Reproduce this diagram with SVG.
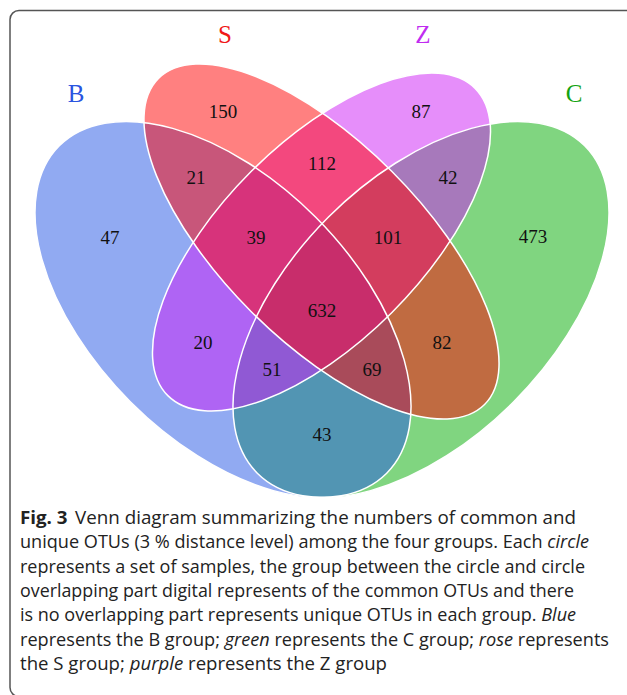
<svg xmlns="http://www.w3.org/2000/svg" xmlns:xlink="http://www.w3.org/1999/xlink" width="627" height="695" viewBox="0 0 627 695">
<style>
.set{fill-opacity:0.5;stroke:none}
.edge{fill:none;stroke:#ffffff;stroke-width:1.5}
.num{font-family:"Liberation Serif","Times New Roman",serif;font-size:19px;fill:#111111;text-anchor:middle}
.lab{font-family:"Liberation Serif","Times New Roman",serif;font-size:25px;text-anchor:middle}
.cap{font-family:"Open Sans","Noto Sans","Liberation Sans",sans-serif;font-size:17.5px;fill:#222222}
.it{font-style:italic}
</style>
<defs>
<ellipse id="eC" cx="421" cy="309.5" rx="231.5" ry="130.8" transform="rotate(-45 421 309.5)"/>
<ellipse id="eB" cx="223" cy="309.5" rx="231.5" ry="130.8" transform="rotate(45 223 309.5)"/>
<ellipse id="eZ" cx="321.5" cy="242" rx="217.3" ry="99.6" transform="rotate(-45 321.5 242)"/>
<ellipse id="eS" cx="321.5" cy="241.5" rx="230.6" ry="99.3" transform="rotate(45 321.5 241.5)"/>
</defs>
<rect x="10" y="10.5" width="630" height="686" rx="9" ry="9" fill="#ffffff" stroke="#555555" stroke-width="1.5"/>
<g id="set-C"><use xlink:href="#eC" class="set" fill="#01ab01"/><text class="lab" x="574" y="102" fill="#13a313">C</text></g>
<g id="set-B"><use xlink:href="#eB" class="set" fill="#2355e5"/><text class="lab" x="76" y="102" fill="#2a55e0">B</text></g>
<g id="set-Z"><use xlink:href="#eZ" class="set" fill="#cd1df5"/><text class="lab" x="423" y="43" fill="#c02cf0">Z</text></g>
<g id="set-S"><use xlink:href="#eS" class="set" fill="#ff0101"/><text class="lab" x="225" y="43" fill="#f01818">S</text></g>
<g id="connectors">
<use xlink:href="#eC" class="edge"/>
<use xlink:href="#eB" class="edge"/>
<use xlink:href="#eZ" class="edge"/>
<use xlink:href="#eS" class="edge"/>
</g>
<g id="counts">
<text class="num" x="223" y="117.5">150</text>
<text class="num" x="421" y="117.5">87</text>
<text class="num" x="110" y="243.5">47</text>
<text class="num" x="533" y="242.5">473</text>
<text class="num" x="196" y="183.5">21</text>
<text class="num" x="322" y="169.5">112</text>
<text class="num" x="448" y="183.5">42</text>
<text class="num" x="256" y="243.5">39</text>
<text class="num" x="388" y="243.5">101</text>
<text class="num" x="322" y="316.5">632</text>
<text class="num" x="203" y="348.5">20</text>
<text class="num" x="442" y="348.5">82</text>
<text class="num" x="272" y="375.5">51</text>
<text class="num" x="372" y="375.5">69</text>
<text class="num" x="322" y="440.5">43</text>
</g>
<g id="caption" class="cap">
<text x="20" y="523.5" textLength="556" lengthAdjust="spacingAndGlyphs"><tspan font-weight="bold">Fig. 3</tspan><tspan dx="7">Venn diagram summarizing the numbers of common and</tspan></text>
<text x="20" y="548" textLength="569" lengthAdjust="spacingAndGlyphs">unique OTUs (3 % distance level) among the four groups. Each <tspan class="it">circle</tspan></text>
<text x="20" y="572.5" textLength="565" lengthAdjust="spacingAndGlyphs">represents a set of samples, the group between the circle and circle</text>
<text x="20" y="597" textLength="554" lengthAdjust="spacingAndGlyphs">overlapping part digital represents of the common OTUs and there</text>
<text x="20" y="621" textLength="556" lengthAdjust="spacingAndGlyphs">is no overlapping part represents unique OTUs in each group. <tspan class="it">Blue</tspan></text>
<text x="20" y="645.5" textLength="589" lengthAdjust="spacingAndGlyphs">represents the B group; <tspan class="it">green</tspan> represents the C group; <tspan class="it">rose</tspan> represents</text>
<text x="20" y="670" textLength="367" lengthAdjust="spacingAndGlyphs">the S group; <tspan class="it">purple</tspan> represents the Z group</text>
</g>
</svg>
